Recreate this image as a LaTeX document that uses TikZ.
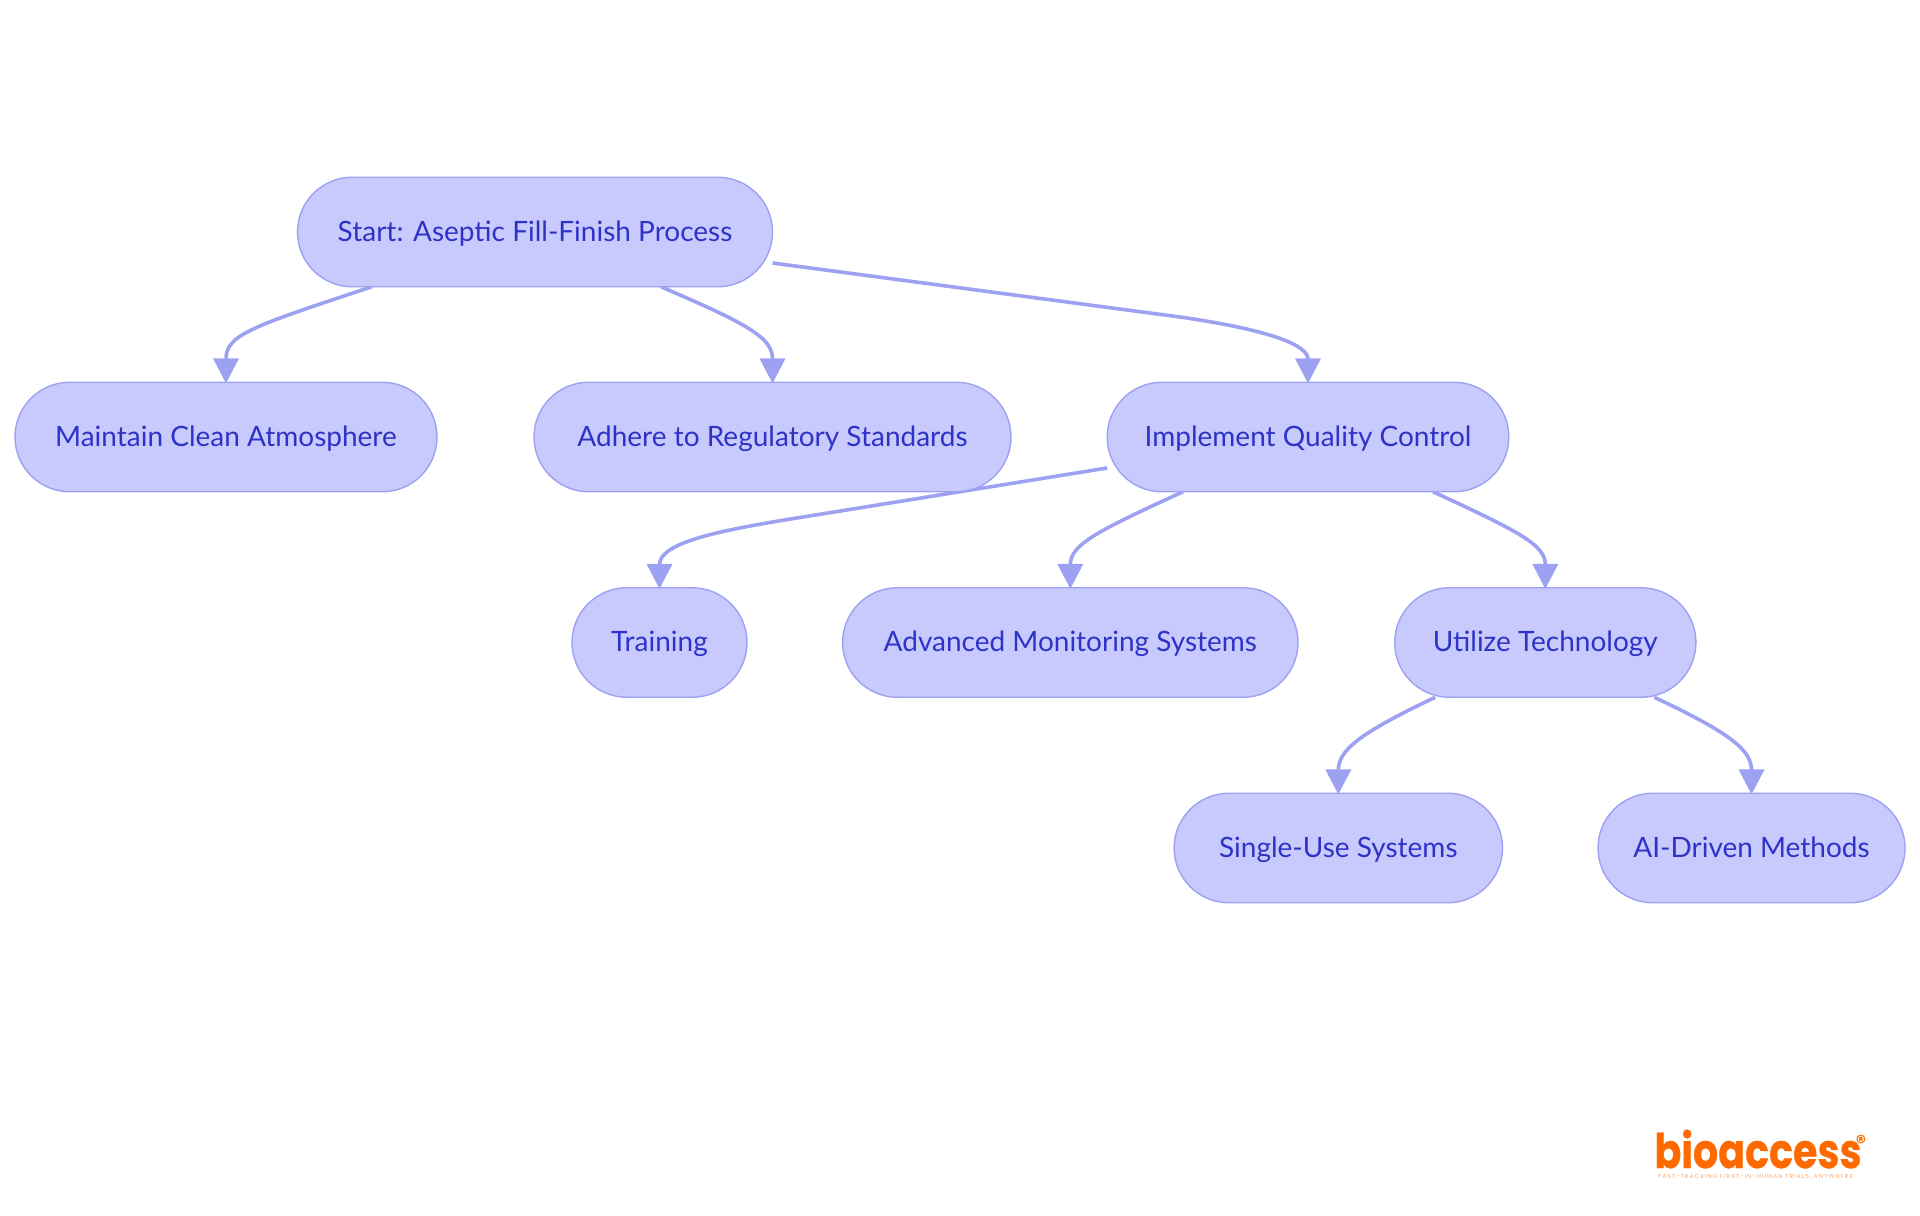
\documentclass[tikz,border=0pt]{standalone}
\usepackage{fontspec}
\setmainfont{Lato}
\newfontfamily\logofont{Poppins}
\usetikzlibrary{arrows.meta,backgrounds,shapes.misc}
\definecolor{pillfill}{HTML}{C8CAFD}
\definecolor{pillline}{HTML}{9DA1F2}
\definecolor{pilltext}{HTML}{2E33C8}
\definecolor{logoorange}{HTML}{FF6A00}

\begin{document}
\begin{tikzpicture}[x=0.5pt,y=-0.5pt]
\tikzstyle{pill}=[rounded rectangle,draw=pillline,fill=pillfill,line width=0.7pt,text=pilltext,minimum height=54.75pt,inner sep=0pt,outer sep=0pt,text height=10.1pt,text depth=1pt,font=\fontsize{14}{16}\selectfont]
\tikzstyle{link}=[draw=pillline,line width=1.8pt,shorten >=-0.6pt,-{Triangle[length=12.5pt,width=12.5pt]}]
\useasboundingbox (0,0) rectangle (1920,1215);
\node[pill,minimum width=237.5pt] (start) at (535,232) {Start: Aseptic Fill-Finish Process};
\node[pill,minimum width=211pt] (clean) at (226,437) {Maintain Clean Atmosphere};
\node[pill,minimum width=238.5pt] (regs) at (772.5,437) {Adhere to Regulatory Standards};
\node[pill,minimum width=200.8pt] (quality) at (1308,437) {Implement Quality Control};
\node[pill,minimum width=87.5pt] (training) at (659.5,642.5) {Training};
\node[pill,minimum width=227.7pt] (monitoring) at (1070.3,642.5) {Advanced Monitoring Systems};
\node[pill,minimum width=150.6pt] (tech) at (1545.3,642.5) {Utilize Technology};
\node[pill,minimum width=164.2pt] (single) at (1338.3,848) {Single-Use Systems};
\node[pill,minimum width=153.5pt] (aidriven) at (1751.5,848) {AI-Driven Methods};
\begin{scope}[on background layer]
\draw[link] ([xshift=-81.5pt]start.south) .. controls (250,327) and (226,335) .. (clean.north);
\draw[link] ([xshift=63pt]start.south) .. controls (750,325) and (772.5,338) .. (regs.north);
\draw[link] ([yshift=-15.5pt]start.east) -- (1180,317) .. controls (1270,330) and (1308,345) .. (quality.north);
\draw[link] ([yshift=-15.5pt]quality.west) -- (800,517.5) .. controls (715,531) and (659.5,543) .. (training.north);
\draw[link] ([xshift=-62.5pt]quality.south) .. controls (1095,532) and (1070.3,545) .. (monitoring.north);
\draw[link] ([xshift=62.5pt]quality.south) .. controls (1520,532) and (1545.3,545) .. (tech.north);
\draw[link] ([xshift=-55pt]tech.south) .. controls (1360,733) and (1338.3,750) .. (single.north);
\draw[link] ([xshift=54.5pt]tech.south) .. controls (1730,733) and (1751.5,750) .. (aidriven.north);
\end{scope}
% logo
\node[anchor=base west,inner sep=0pt,text=logoorange,font=\logofont\bfseries\addfontfeature{FakeBold=0.6}\fontsize{24}{24}\selectfont] (logo) at (1654,1168) {\scalebox{.825}[1]{bioaccess}};
\node[anchor=center,inner sep=0pt,text=logoorange,font=\logofont\bfseries\fontsize{10}{10}\selectfont] (reg) at (1861,1142) {®};
\node[anchor=center,inner sep=0pt,text=logoorange!60,font=\logofont\addfontfeature{LetterSpace=20}\fontsize{2.9}{3}\selectfont] (tagline) at (1755.5,1177) {FAST-TRACKING FIRST-IN-HUMAN TRIALS, ANYWHERE};
\end{tikzpicture}
\end{document}
